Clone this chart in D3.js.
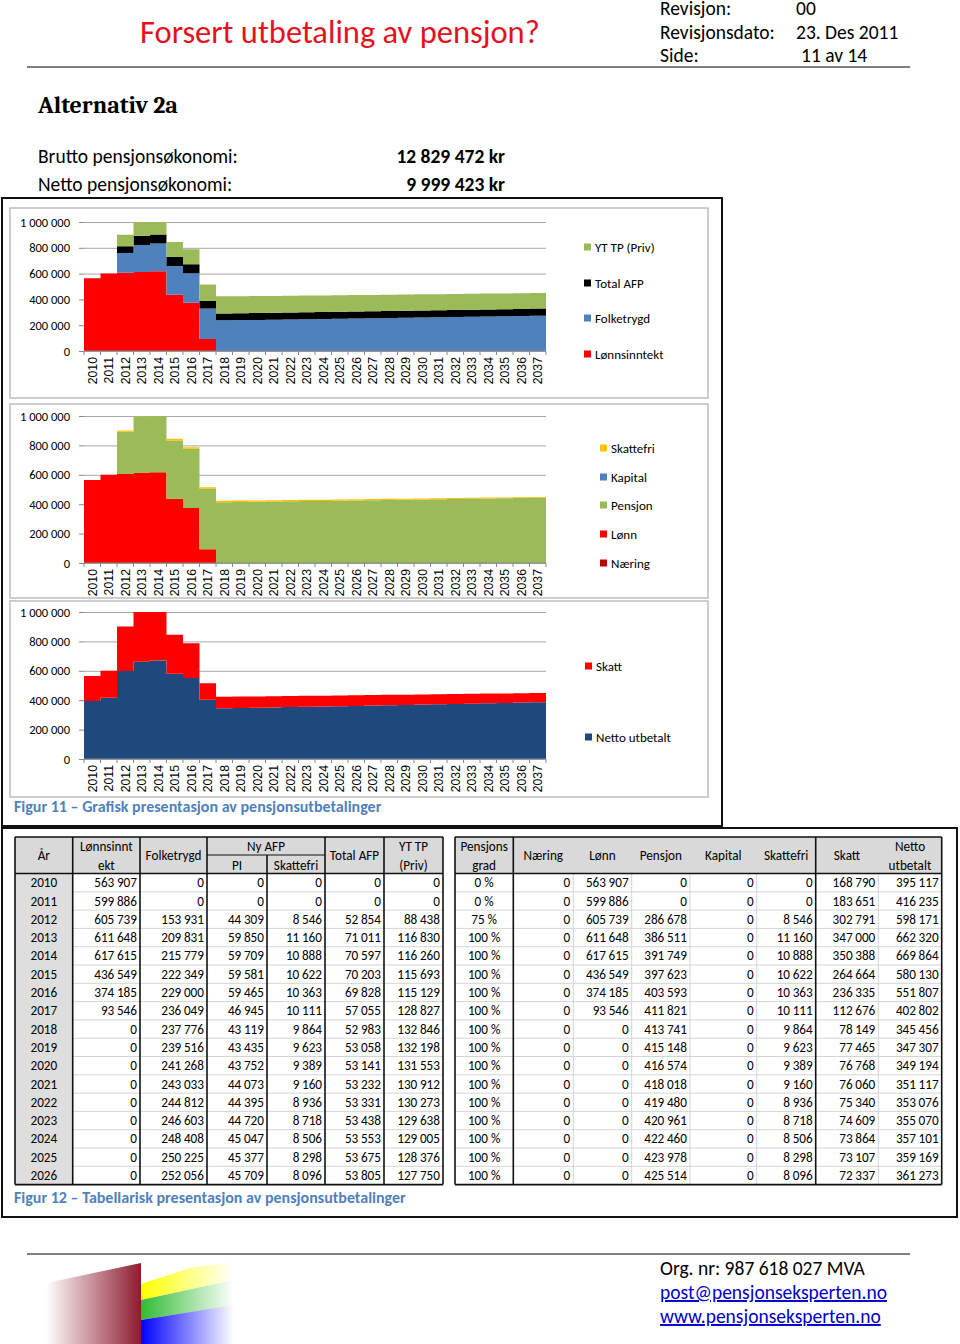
<!DOCTYPE html>
<html><head><meta charset="utf-8">
<script src="https://cdn.jsdelivr.net/npm/d3@7"></script>
<style>
body{margin:0;background:#fff}
svg{display:block}
text{font-family:Carlito,Calibri,Lato,"Open Sans",sans-serif;fill:#000}
</style></head><body>
<svg id="page" width="960" height="1344"></svg>
<script>
// ---------- DATA ----------
const years = [2010,2011,2012,2013,2014,2015,2016,2017,2018,2019,2020,2021,2022,2023,2024,2025,2026,2027,2028,2029,2030,2031,2032,2033,2034,2035,2036,2037];
const lonn = [563907,599886,605739,611648,617615,436549,374185,93546,0,0,0,0,0,0,0,0,0,0,0,0,0,0,0,0,0,0,0,0];
const folketrygd = [0,0,153931,209831,215779,222349,229000,236049,237776,239516,241268,243033,244812,246603,248408,250225,252056,253900,255760,257630,259520,261420,263330,265250,267180,269120,271080,273050];
const afpPI = [0,0,44309,59850,59709,59581,59465,46945,43119,43435,43752,44073,44395,44720,45047,45377,45709,46040,46370,46710,47050,47390,47740,48090,48450,48810,49170,49540];
const skattefri = [0,0,8546,11160,10888,10622,10363,10111,9864,9623,9389,9160,8936,8718,8506,8298,8096,7890,7690,7490,7300,7110,6930,6750,6580,6410,6240,6080];
const totalAFP = [0,0,52854,71011,70597,70203,69828,57055,52983,53058,53141,53232,53331,53438,53553,53675,53805,53930,54060,54200,54350,54500,54670,54840,55030,55220,55410,55620];
const ytTP = [0,0,88438,116830,116260,115693,115129,128827,132846,132198,131553,130912,130273,129638,129005,128376,127750,127120,126490,125860,125230,124600,123970,123340,122710,122080,121450,120820];
const pensjonsgrad = ["0 %","0 %","75 %","100 %","100 %","100 %","100 %","100 %","100 %","100 %","100 %","100 %","100 %","100 %","100 %","100 %","100 %"];
const naering = [0,0,0,0,0,0,0,0,0,0,0,0,0,0,0,0,0,0,0,0,0,0,0,0,0,0,0,0];
const pensjon = [0,0,286678,386511,391749,397623,403593,411821,413741,415148,416574,418018,419480,420961,422460,423978,425514,427060,428620,430200,431800,433410,435040,436680,438340,440010,441700,443410];
const kapital = [0,0,0,0,0,0,0,0,0,0,0,0,0,0,0,0,0,0,0,0,0,0,0,0,0,0,0,0];
const skatt = [168790,183651,302791,347000,350388,264664,236335,112676,78149,77465,76768,76060,75340,74609,73864,73107,72337,71560,70780,69990,69190,68380,67560,66730,65890,65040,64180,63310];
const netto = [395117,416235,598171,662320,669864,580130,551807,402802,345456,347307,349194,351117,353076,355070,357101,359169,361273,363390,365530,367700,369910,372140,374410,376700,379030,381380,383760,386180];
const yTicks = [0,200000,400000,600000,800000,1000000];
const tableYears = 17;

const loc = d3.formatLocale({decimal:",",thousands:"\u2009",grouping:[3],currency:["","kr"]});
const fmt = loc.format(",d");
const fmtAxis = d3.formatLocale({decimal:",",thousands:"\u00a0",grouping:[3],currency:["","kr"]}).format(",d");

const svg = d3.select("#page");

// ---------- HEADER ----------
svg.append("text").attr("x",140).attr("y",43).attr("font-size",32.5).style("fill","#e3121c").text("Forsert utbetaling av pensjon?");
const hdr = [["Revisjon:","00",15,796],["Revisjonsdato:","23. Des 2011",38.5,796],["Side:","11 av 14",62,801]];
hdr.forEach(h=>{
  svg.append("text").attr("x",660).attr("y",h[2]).attr("font-size",19.5).text(h[0]);
  svg.append("text").attr("x",h[3]).attr("y",h[2]).attr("font-size",19.5).text(h[1]);
});
svg.append("line").attr("x1",27).attr("x2",910).attr("y1",67).attr("y2",67).attr("stroke","#555").attr("stroke-width",1.5);

svg.append("text").attr("x",38).attr("y",113).attr("font-size",24).attr("font-weight","bold")
  .style("font-family","Cambria,'Liberation Serif','DejaVu Serif',serif").text("Alternativ 2a");
svg.append("text").attr("x",38).attr("y",163).attr("font-size",19.5).text("Brutto pensjonsøkonomi:");
svg.append("text").attr("x",38).attr("y",191).attr("font-size",19.5).text("Netto pensjonsøkonomi:");
svg.append("text").attr("x",505).attr("y",163).attr("font-size",19.5).attr("font-weight","bold").attr("text-anchor","end").text("12 829 472 kr");
svg.append("text").attr("x",505).attr("y",191).attr("font-size",19.5).attr("font-weight","bold").attr("text-anchor","end").text("9 999 423 kr");

// ---------- FIGURE 11 BOX ----------
svg.append("rect").attr("x",2).attr("y",198).attr("width",720).attr("height",628).attr("fill","none").attr("stroke","#111").attr("stroke-width",2);

const X0 = 84, X1 = 546;
const xb = d3.scaleBand().domain(years).range([X0,X1]).padding(0);

function drawChart(cfg){
  const g = svg.append("g");
  g.append("rect").attr("x",10).attr("y",cfg.frameY).attr("width",698).attr("height",cfg.frameH)
    .attr("fill","#fff").attr("stroke","#bdbdbd").attr("stroke-width",1.5);
  const y = d3.scaleLinear().domain([0,1000000]).range([cfg.yBottom,cfg.yTop]);
  const ax = g.append("g").attr("transform",`translate(${X0},0)`)
    .call(d3.axisLeft(y).tickValues(yTicks).tickSize(-(X1-X0)).tickPadding(14).tickFormat(fmtAxis));
  ax.select(".domain").remove();
  ax.selectAll(".tick line").attr("stroke","#a6a6a6").attr("stroke-width",1);
  ax.selectAll(".tick text").attr("font-size",12.5).style("font-family","Carlito,Calibri,Lato,sans-serif");
  ax.selectAll(".tick").append("line").attr("x1",-5).attr("x2",0).attr("stroke","#888");
  const rows = years.map((yr,i)=>{const o={year:yr}; cfg.series.forEach(s=>o[s.key]=s.values[i]); return o;});
  const stack = d3.stack().keys(cfg.series.map(s=>s.key))(rows);
  const clipId = "clip"+cfg.id;
  g.append("clipPath").attr("id",clipId).append("rect").attr("x",X0).attr("y",cfg.yTop).attr("width",X1-X0).attr("height",cfg.yBottom-cfg.yTop);
  const area = d3.area().curve(d3.curveStepAfter).x(p=>p.x).y0(p=>y(p.v0)).y1(p=>y(p.v1));
  const pg = g.append("g").attr("clip-path",`url(#${clipId})`);
  stack.forEach((layer,li)=>{
    const pts = layer.map((d,i)=>({x:xb(years[i]),v0:d[0],v1:d[1]}));
    const last = layer[layer.length-1];
    pts.push({x:xb(years[years.length-1])+xb.bandwidth(),v0:last[0],v1:last[1]});
    pg.append("path").attr("d",area(pts)).attr("fill",cfg.series[li].color);
  });
  g.append("line").attr("x1",X0).attr("x2",X1).attr("y1",cfg.yBottom).attr("y2",cfg.yBottom).attr("stroke","#888");
  g.selectAll(null).data(years.concat([null])).enter().append("line")
    .attr("x1",(d,i)=>X0+i*xb.bandwidth()).attr("x2",(d,i)=>X0+i*xb.bandwidth())
    .attr("y1",cfg.yBottom).attr("y2",cfg.yBottom+4).attr("stroke","#888");
  g.selectAll(null).data(years).enter().append("text")
    .attr("transform",d=>`translate(${xb(d)+xb.bandwidth()/2+4.3},${cfg.yBottom+6}) rotate(-90)`)
    .attr("text-anchor","end").attr("font-size",12.3).style("font-family","'Liberation Sans',Arial,sans-serif").text(d=>d);
  cfg.legend.forEach(l=>{
    g.append("rect").attr("x",cfg.legendX).attr("y",l.y-3.5).attr("width",7).attr("height",7).attr("fill",l.color);
    g.append("text").attr("x",cfg.legendX+11).attr("y",l.y+4.5).attr("font-size",13).text(l.name);
  });
}

drawChart({id:1,frameY:208,frameH:190,yTop:222,yBottom:351,legendX:584,
  series:[{key:"lonn",values:lonn,color:"#ff0000"},{key:"ft",values:folketrygd,color:"#4f81bd"},
          {key:"afp",values:totalAFP,color:"#000000"},{key:"yt",values:ytTP,color:"#9bbb59"}],
  legend:[{name:"YT TP (Priv)",color:"#9bbb59",y:247},{name:"Total AFP",color:"#000",y:283},
          {name:"Folketrygd",color:"#4f81bd",y:318},{name:"Lønnsinntekt",color:"#ff0000",y:354}]});

drawChart({id:2,frameY:404,frameH:194,yTop:416,yBottom:563,legendX:600,
  series:[{key:"naering",values:naering,color:"#c00000"},{key:"lonn",values:lonn,color:"#ff0000"},
          {key:"pensjon",values:pensjon,color:"#9bbb59"},{key:"kapital",values:kapital,color:"#4f81bd"},
          {key:"skattefri",values:skattefri,color:"#ffc000"}],
  legend:[{name:"Skattefri",color:"#ffc000",y:448},{name:"Kapital",color:"#4f81bd",y:477},
          {name:"Pensjon",color:"#9bbb59",y:505},{name:"Lønn",color:"#ff0000",y:534},{name:"Næring",color:"#c00000",y:563}]});

drawChart({id:3,frameY:601,frameH:196,yTop:612,yBottom:759,legendX:585,
  series:[{key:"netto",values:netto,color:"#1f497d"},{key:"skatt",values:skatt,color:"#ff0000"}],
  legend:[{name:"Skatt",color:"#ff0000",y:666},{name:"Netto utbetalt",color:"#1f497d",y:737}]});

svg.append("text").attr("x",14).attr("y",812).attr("font-size",16).attr("font-weight","bold")
  .style("fill","#4f81bd").text("Figur 11 – Grafisk presentasjon av pensjonsutbetalinger");

// ---------- TABLE BOX ----------
svg.append("rect").attr("x",2).attr("y",828).attr("width",955).attr("height",389).attr("fill","none").attr("stroke","#111").attr("stroke-width",2);

const HT = 837, HM = 855, HB = 873.5, RH = 18.3;
const rowY = i => HB + i*RH;
const TB = rowY(tableYears);
const tg = svg.append("g");
const FS = 13.2;

const t1 = [15,72.7,140,207,267,325,384,443];
const t1vals = [years, lonn, folketrygd, afpPI, skattefri, totalAFP, ytTP];
tg.append("rect").attr("x",t1[0]).attr("y",HT).attr("width",t1[7]-t1[0]).attr("height",HB-HT).attr("fill","#d9d9d9");
tg.append("rect").attr("x",t1[0]).attr("y",HB).attr("width",t1[1]-t1[0]).attr("height",TB-HB).attr("fill","#dedede");
const t2 = [455,513.3,573.3,631.7,690,756.7,815.7,878.3,941.7];
tg.append("rect").attr("x",t2[0]).attr("y",HT).attr("width",t2[8]-t2[0]).attr("height",HB-HT).attr("fill","#d9d9d9");

d3.range(1,tableYears).forEach(i=>{
  tg.append("line").attr("x1",t1[1]).attr("x2",t1[7]).attr("y1",rowY(i)).attr("y2",rowY(i)).attr("stroke","#d4d4d4");
  tg.append("line").attr("x1",t2[0]).attr("x2",t2[8]).attr("y1",rowY(i)).attr("y2",rowY(i)).attr("stroke","#d4d4d4");
});
[t2[2],t2[3],t2[4],t2[5],t2[7]].forEach(x=>tg.append("line").attr("x1",x).attr("x2",x).attr("y1",HB).attr("y2",TB).attr("stroke","#d4d4d4"));
t1.forEach(x=>tg.append("line").attr("x1",x).attr("x2",x).attr("y1",(x===t1[4])?HM:HT).attr("y2",TB).attr("stroke","#111").attr("stroke-width",1.6));
tg.append("line").attr("x1",t1[3]).attr("x2",t1[5]).attr("y1",HM).attr("y2",HM).attr("stroke","#111").attr("stroke-width",1.2);
[HT,HB,TB].forEach(y=>tg.append("line").attr("x1",t1[0]).attr("x2",t1[7]).attr("y1",y).attr("y2",y).attr("stroke","#111").attr("stroke-width",1.6));
[t2[0],t2[1],t2[6],t2[8]].forEach(x=>tg.append("line").attr("x1",x).attr("x2",x).attr("y1",HT).attr("y2",TB).attr("stroke","#111").attr("stroke-width",1.6));
[HT,HB,TB].forEach(y=>tg.append("line").attr("x1",t2[0]).attr("x2",t2[8]).attr("y1",y).attr("y2",y).attr("stroke","#111").attr("stroke-width",1.6));

function hText(x,y,str){tg.append("text").attr("x",x).attr("y",y).attr("text-anchor","middle").attr("font-size",FS).text(str);}
const mid=(a,b)=>(a+b)/2;
const L1 = HT+13.5, L2 = HB-4, LC = mid(HT,HB)+4.5;
hText(mid(t1[0],t1[1]),LC,"År");
hText(mid(t1[1],t1[2]),L1,"Lønnsinnt"); hText(mid(t1[1],t1[2]),L2,"ekt");
hText(mid(t1[2],t1[3]),LC,"Folketrygd");
hText(mid(t1[3],t1[5]),L1,"Ny AFP");
hText(mid(t1[3],t1[4]),L2,"PI"); hText(mid(t1[4],t1[5]),L2,"Skattefri");
hText(mid(t1[5],t1[6]),LC,"Total AFP");
hText(mid(t1[6],t1[7]),L1,"YT TP"); hText(mid(t1[6],t1[7]),L2,"(Priv)");
hText(mid(t2[0],t2[1]),L1,"Pensjons"); hText(mid(t2[0],t2[1]),L2,"grad");
["Næring","Lønn","Pensjon","Kapital","Skattefri","Skatt"].forEach((s,i)=>hText(mid(t2[i+1],t2[i+2]),LC,s));
hText(mid(t2[7],t2[8]),L1,"Netto"); hText(mid(t2[7],t2[8]),L2,"utbetalt");

const t2vals = [naering, lonn, pensjon, kapital, skattefri, skatt, netto];
for(let r=0;r<tableYears;r++){
  const ty = rowY(r)+13.7;
  tg.append("text").attr("x",mid(t1[0],t1[1])).attr("y",ty).attr("text-anchor","middle").attr("font-size",FS).text(years[r]);
  for(let c=1;c<t1vals.length;c++){
    tg.append("text").attr("x",t1[c+1]-3).attr("y",ty).attr("text-anchor","end").attr("font-size",FS).text(fmt(t1vals[c][r]));
  }
  tg.append("text").attr("x",mid(t2[0],t2[1])).attr("y",ty).attr("text-anchor","middle").attr("font-size",FS).text(pensjonsgrad[r]);
  t2vals.forEach((arr,c)=>{
    tg.append("text").attr("x",t2[c+2]-3).attr("y",ty).attr("text-anchor","end").attr("font-size",FS).text(fmt(arr[r]));
  });
}
svg.append("text").attr("x",14).attr("y",1203).attr("font-size",16).attr("font-weight","bold")
  .style("fill","#4f81bd").text("Figur 12 – Tabellarisk presentasjon av pensjonsutbetalinger");

// ---------- FOOTER ----------
svg.append("line").attr("x1",27).attr("x2",910).attr("y1",1254).attr("y2",1254).attr("stroke","#555").attr("stroke-width",1.5);
const defs = svg.append("defs");
function grad(id,c,rev){
  const lg = defs.append("linearGradient").attr("id",id).attr("x1",rev?"100%":"0%").attr("x2",rev?"0%":"100%").attr("y1","0%").attr("y2","0%");
  lg.append("stop").attr("offset","0%").attr("stop-color",c).attr("stop-opacity",0);
  lg.append("stop").attr("offset","100%").attr("stop-color",c).attr("stop-opacity",1);
}
grad("gm","#8e1b2e",false); grad("gy","#ffff00",true); grad("gg","#33bb33",true); grad("gbl","#0000ff",true);
svg.append("path").attr("d","M46,1283 L141,1263 L141,1344 L46,1344 Z").attr("fill","url(#gm)");
svg.append("path").attr("d","M141,1284 L190,1268 L234,1262 L234,1280 L141,1300 Z").attr("fill","url(#gy)");
svg.append("path").attr("d","M141,1300 L234,1280 L234,1305 L141,1320 Z").attr("fill","url(#gg)");
svg.append("path").attr("d","M141,1320 L234,1305 L234,1344 L141,1344 Z").attr("fill","url(#gbl)");

svg.append("text").attr("x",660).attr("y",1275).attr("font-size",19.5).text("Org. nr: 987 618 027 MVA");
[["post@pensjonseksperten.no",1299],["www.pensjonseksperten.no",1323]].forEach(d=>{
  svg.append("text").attr("x",660).attr("y",d[1]).attr("font-size",19.5).style("fill","#0000cc")
    .attr("text-decoration","underline").text(d[0]);
});
</script>
</body></html>
